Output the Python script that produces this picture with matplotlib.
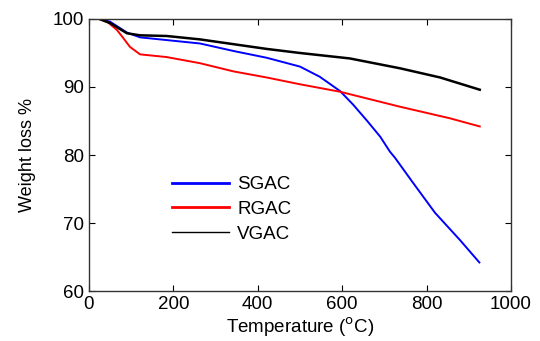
import matplotlib
matplotlib.use("Agg")
import matplotlib.pyplot as plt

plt.rcParams["font.family"] = ["Liberation Sans", "DejaVu Sans"]

# Temperatures (degC) and weight (%)
sgac_t = [25, 50, 90, 121, 184, 263, 342, 421, 500, 547, 595, 626, 658, 690, 713, 725, 768, 820, 879, 925]
sgac_w = [100, 99.6, 98.0, 97.3, 96.9, 96.4, 95.3, 94.3, 93.0, 91.5, 89.4, 87.4, 85.1, 82.7, 80.5, 79.6, 75.9, 71.5, 67.5, 64.2]

rgac_t = [25, 45, 66, 80, 97, 121, 184, 263, 342, 421, 500, 595, 737, 855, 926]
rgac_w = [100, 99.5, 98.4, 97.3, 95.9, 94.8, 94.4, 93.5, 92.3, 91.4, 90.4, 89.3, 87.1, 85.4, 84.2]

vgac_t = [25, 50, 90, 121, 184, 263, 342, 421, 500, 618, 737, 832, 926]
vgac_w = [100, 99.4, 97.9, 97.6, 97.5, 97.0, 96.3, 95.6, 95.0, 94.2, 92.75, 91.4, 89.6]

fig = plt.figure(figsize=(5.4, 3.41), dpi=100)
ax = fig.add_axes([0.1648, 0.1466, 0.7815, 0.7977])

ax.plot(sgac_t, sgac_w, color="#0000ff", lw=1.4, label="SGAC")
ax.plot(rgac_t, rgac_w, color="#ff0000", lw=1.4, label="RGAC")
ax.plot(vgac_t, vgac_w, color="black", lw=1.8, label="VGAC")

ax.set_xlim(0, 1000)
ax.set_ylim(60, 100)
ax.set_xticks([0, 200, 400, 600, 800, 1000])
ax.set_yticks([60, 70, 80, 90, 100])
ax.tick_params(direction="in", top=True, right=True, labelsize=13.5, length=4, width=0.8)
for s in ax.spines.values():
    s.set_linewidth(1.0)
    s.set_color("#333333")

ax.set_xlabel("Temperature ($^{\\rm o}$C)", fontsize=13.5, labelpad=2)
ax.set_ylabel("Weight loss %", fontsize=13, labelpad=12)

leg = ax.legend(loc="upper left", bbox_to_anchor=(0.197, 0.422), frameon=False,
                fontsize=13.5, handlelength=3.05, handletextpad=0.43, labelspacing=0.4,
                borderaxespad=0, borderpad=0)
leg.legend_handles[0].set_linewidth(2.0)
leg.legend_handles[1].set_linewidth(2.0)
leg.legend_handles[2].set_linewidth(1.0)

fig.savefig("out.png", dpi=100)
